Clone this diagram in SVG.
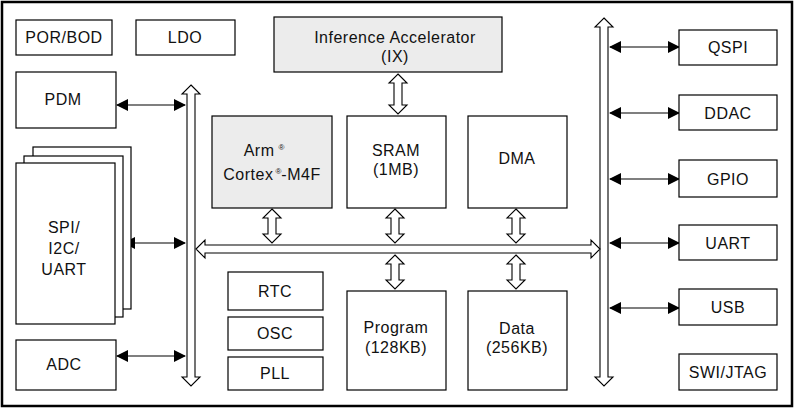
<svg xmlns="http://www.w3.org/2000/svg" width="795" height="410" viewBox="0 0 795 410">
<defs>
<style>
.b{fill:#fff;stroke:#000;stroke-width:1.2}
.g{fill:#ececec;stroke:#000;stroke-width:1.2}
.h{fill:#fff;stroke:#000;stroke-width:1.1}
.l{stroke:#000;stroke-width:1.2;fill:none}
text{font-family:"Liberation Sans",Arial,sans-serif;font-size:16px;letter-spacing:0.5px;fill:#111;text-anchor:middle}
.s{font-size:8px;letter-spacing:0}
</style>
<marker id="a" viewBox="0 0 12 12" refX="11" refY="6" markerWidth="12" markerHeight="12" markerUnits="userSpaceOnUse" orient="auto-start-reverse"><path d="M0,0L12,6L0,12Z" fill="#000"/></marker>
</defs>
<rect x="2" y="2" width="790" height="404" fill="#fff" stroke="#000" stroke-width="2.5"/>
<g id="connectors">
<polygon class="h" points="191,85 200,94 195,94 195,377 200,377 191,386 182,377 187,377 187,94 182,94"/>
<polygon class="h" points="604,18 613,27 608,27 608,377 613,377 604,386 595,377 600,377 600,27 595,27"/>
<polygon class="h" points="196,249 205,240 205,245 591,245 591,240 600,249 591,258 591,253 205,253 205,258"/>
<polygon class="h" points="398,74 407,83 402,83 402,105 407,105 398,114 389,105 394,105 394,83 389,83"/>
<polygon class="h" points="272,209 281,218 276,218 276,234 281,234 272,243 263,234 268,234 268,218 263,218"/>
<polygon class="h" points="395,209 404,218 399,218 399,234 404,234 395,243 386,234 391,234 391,218 386,218"/>
<polygon class="h" points="516,209 525,218 520,218 520,234 525,234 516,243 507,234 512,234 512,218 507,218"/>
<polygon class="h" points="395,255 404,264 399,264 399,280 404,280 395,289 386,280 391,280 391,264 386,264"/>
<polygon class="h" points="516,255 525,264 520,264 520,280 525,280 516,289 507,280 512,280 512,264 507,264"/>
<line class="l" x1="117" y1="105" x2="185" y2="105" marker-start="url(#a)" marker-end="url(#a)"/>
<line class="l" x1="124" y1="243" x2="185" y2="243" marker-start="url(#a)" marker-end="url(#a)"/>
<line class="l" x1="117" y1="356" x2="185" y2="356" marker-start="url(#a)" marker-end="url(#a)"/>
<line class="l" x1="610" y1="47" x2="679" y2="47" marker-start="url(#a)" marker-end="url(#a)"/>
<line class="l" x1="610" y1="113" x2="679" y2="113" marker-start="url(#a)" marker-end="url(#a)"/>
<line class="l" x1="610" y1="179" x2="679" y2="179" marker-start="url(#a)" marker-end="url(#a)"/>
<line class="l" x1="610" y1="243" x2="679" y2="243" marker-start="url(#a)" marker-end="url(#a)"/>
<line class="l" x1="610" y1="308" x2="679" y2="308" marker-start="url(#a)" marker-end="url(#a)"/>
</g>
<g id="porbod"><rect class="b" x="16" y="20" width="96" height="35"/><text x="64" y="43">POR/BOD</text></g>
<g id="ldo"><rect class="b" x="136" y="20" width="99" height="35"/><text x="185" y="43">LDO</text></g>
<g id="ix"><rect class="g" x="274" y="17" width="228" height="55"/><text x="395" y="43">Inference Accelerator</text><text x="395" y="62">(IX)</text></g>
<g id="pdm"><rect class="b" x="16" y="72" width="100" height="56"/><text x="63" y="105">PDM</text></g>
<g id="spi"><rect class="b" x="33" y="147" width="98" height="162"/><rect class="b" x="24" y="156" width="99" height="161"/><rect class="b" x="16" y="163" width="99" height="161"/><text x="64" y="233">SPI/</text><text x="64" y="254">I2C/</text><text x="64" y="275">UART</text></g>
<g id="adc"><rect class="b" x="16" y="340" width="100" height="50"/><text x="64" y="370">ADC</text></g>
<g id="arm"><rect class="g" x="212" y="116" width="120" height="92"/><text x="264" y="156">Arm<tspan class="s" dx="4" dy="-6">®</tspan></text><text x="272" y="180">Cortex<tspan class="s" dx="2" dy="-6">®</tspan><tspan dy="6">-M4F</tspan></text></g>
<g id="sram"><rect class="b" x="347" y="116" width="99" height="92"/><text x="396" y="156">SRAM</text><text x="396" y="175">(1MB)</text></g>
<g id="dma"><rect class="b" x="468" y="116" width="99" height="92"/><text x="517" y="164">DMA</text></g>
<g id="rtc"><rect class="b" x="228" y="272" width="95" height="38"/><text x="275" y="297">RTC</text></g>
<g id="osc"><rect class="b" x="228" y="317" width="95" height="33"/><text x="275" y="339">OSC</text></g>
<g id="pll"><rect class="b" x="228" y="357" width="95" height="33"/><text x="275" y="379">PLL</text></g>
<g id="program"><rect class="b" x="347" y="291" width="99" height="99"/><text x="396" y="333">Program</text><text x="396" y="353">(128KB)</text></g>
<g id="data"><rect class="b" x="468" y="291" width="99" height="99"/><text x="517" y="334">Data</text><text x="517" y="353">(256KB)</text></g>
<g id="qspi"><rect class="b" x="679" y="30" width="98" height="35"/><text x="728" y="53">QSPI</text></g>
<g id="ddac"><rect class="b" x="679" y="95" width="98" height="35"/><text x="728" y="119">DDAC</text></g>
<g id="gpio"><rect class="b" x="679" y="160" width="98" height="37"/><text x="728" y="185">GPIO</text></g>
<g id="uart"><rect class="b" x="679" y="225" width="98" height="35"/><text x="728" y="249">UART</text></g>
<g id="usb"><rect class="b" x="679" y="289" width="98" height="36"/><text x="728" y="313">USB</text></g>
<g id="swi"><rect class="b" x="679" y="354" width="98" height="36"/><text x="728" y="378">SWI/JTAG</text></g>
</svg>
